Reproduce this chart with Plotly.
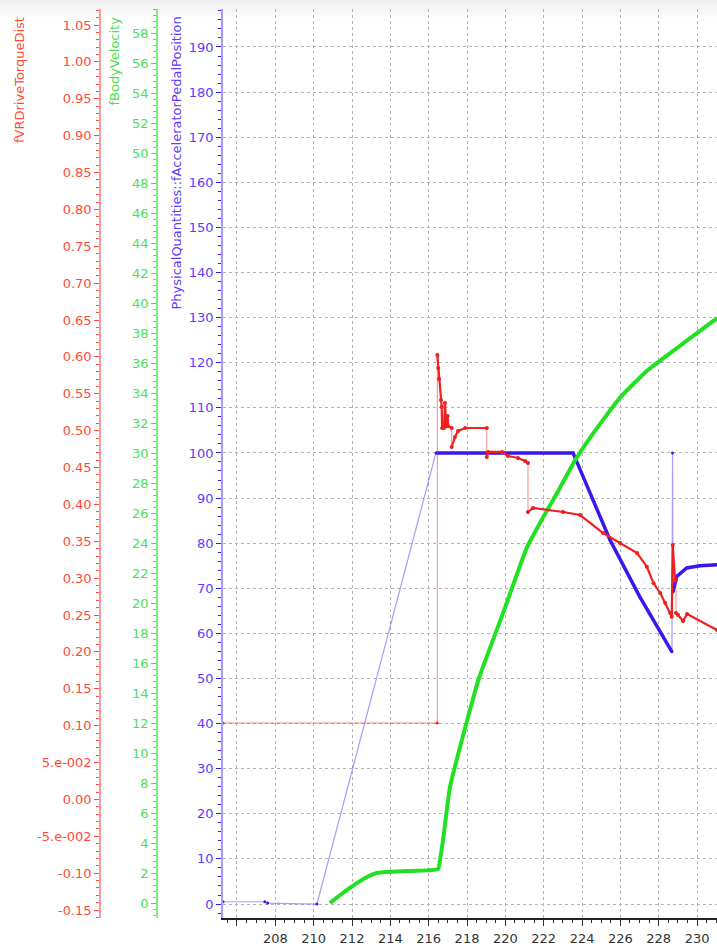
import plotly.graph_objects as go

# ---------------- data ----------------
pedal_t = [205.27, 207.45, 207.60, 210.17, 216.38, 223.53, 225.46, 227.00, 228.69,
           228.72, 228.74, 228.94, 229.46, 230.14, 231.04]
pedal_v = [0.5, 0.5, 0.2, 0.0, 100.0, 100.0, 80.7, 68.2, 55.9,
           100.0, 69.2, 72.6, 74.5, 75.0, 75.2]

torque_t = [205.27, 216.45, 216.45, 216.50, 216.54, 216.64, 216.68, 216.70, 216.80,
            216.85, 216.89, 216.92, 216.99, 217.02, 217.20, 217.20, 217.37, 217.53,
            217.90, 219.03, 219.03, 219.10, 219.83, 220.14, 220.66, 221.03, 221.18,
            221.18, 221.44, 223.01, 223.90, 225.10, 225.98, 226.87, 227.38, 227.73,
            228.08, 228.34, 228.60, 228.68, 228.73, 228.85, 228.90, 228.90, 229.01,
            229.27, 229.48, 231.04]
torque_v = [0.1036, 0.1036, 0.6026, 0.5849, 0.5700, 0.5415, 0.5321, 0.5036, 0.5036,
            0.5375, 0.5185, 0.5060, 0.5199, 0.5060, 0.5036, 0.4778, 0.4914, 0.4995,
            0.5036, 0.5036, 0.4643, 0.4711, 0.4711, 0.4656, 0.4629, 0.4589, 0.4561,
            0.3897, 0.3951, 0.3897, 0.3856, 0.3612, 0.3477, 0.3341, 0.3155, 0.2930,
            0.2799, 0.2663, 0.2527, 0.2477, 0.3449, 0.2975, 0.2975, 0.2527, 0.2500,
            0.2419, 0.2514, 0.2297]

vel_t = [210.85, 211.74, 212.78, 213.30, 213.82, 214.87, 216.49, 216.59, 216.75,
         217.11, 218.59, 219.88, 221.13, 221.96, 222.85, 223.63,
         224.57, 225.98, 227.39, 229.47, 231.04]
vel_v = [0.0, 0.87, 1.73, 2.0, 2.07, 2.13, 2.27, 2.87, 4.2,
         7.73, 14.87, 19.33, 23.73, 25.7, 27.7, 29.5,
         31.3, 33.7, 35.5, 37.5, 39.0]

x_ticks = [206, 208, 210, 212, 214, 216, 218, 220, 222, 224, 226, 228, 230]
x_labels = ["", "208", "210", "212", "214", "216", "218", "220", "222", "224", "226", "228", "230"]
pedal_ticks = list(range(0, 200, 10))
vel_ticks = list(range(0, 60, 2))
torque_ticks = [-0.15, -0.10, -0.05, 0.00, 0.05, 0.10, 0.15, 0.20, 0.25, 0.30, 0.35, 0.40,
                0.45, 0.50, 0.55, 0.60, 0.65, 0.70, 0.75, 0.80, 0.85, 0.90, 0.95, 1.00, 1.05]
torque_labels = ["-0.15", "-0.10", "-5.e-002", "0.00", "5.e-002", "0.10", "0.15", "0.20",
                 "0.25", "0.30", "0.35", "0.40", "0.45", "0.50", "0.55", "0.60", "0.65",
                 "0.70", "0.75", "0.80", "0.85", "0.90", "0.95", "1.00", "1.05"]

# ---------------- styling ----------------
W, H = 717, 949
T_M, B_M = 9, 31
FONT = "DejaVu Sans"
BLUE, BLUE_TXT, BLUE_AX = "#3a16f0", "#5a3cff", "#a59cff"
RED, RED_TXT, RED_AX = "#f02020", "#ff4a3a", "#ff9a9a"
GREEN, GREEN_TXT, GREEN_AX = "#22e022", "#4de04d", "#7df07d"


def thick(xs, ys, ranges):
    ox, oy = [], []
    for a, b in ranges:
        for i in range(a, b + 1):
            if i > a and xs[i] == xs[i - 1]:
                ox.append(None)
                oy.append(None)
            ox.append(xs[i])
            oy.append(ys[i])
        ox.append(None)
        oy.append(None)
    return ox, oy


fig = go.Figure()

# red torque
fig.add_trace(go.Scatter(x=torque_t, y=torque_v, yaxis="y3", mode="lines+markers",
                         line=dict(color="rgba(240,40,40,0.55)", width=1),
                         marker=dict(color=RED, size=3), showlegend=False))
rx, ry = thick(torque_t, torque_v, [(2, len(torque_t) - 1)])
fig.add_trace(go.Scatter(x=rx, y=ry, yaxis="y3", mode="lines+markers",
                         line=dict(color=RED, width=2.2),
                         marker=dict(color=RED, size=4), showlegend=False))

# blue pedal
fig.add_trace(go.Scatter(x=pedal_t, y=pedal_v, yaxis="y", mode="lines+markers",
                         line=dict(color="rgba(110,90,255,0.6)", width=1.2),
                         marker=dict(color=BLUE, size=3), showlegend=False))
bx, by = thick(pedal_t, pedal_v, [(4, 8), (10, len(pedal_t) - 1)])
fig.add_trace(go.Scatter(x=bx, y=by, yaxis="y", mode="lines",
                         line=dict(color=BLUE, width=3.5), showlegend=False))

# green velocity
fig.add_trace(go.Scatter(x=vel_t, y=vel_v, yaxis="y2", mode="lines",
                         line=dict(color=GREEN, width=4, shape="spline", smoothing=0.4),
                         showlegend=False))

x0 = 223 / W

fig.update_layout(
    width=W, height=H,
    margin=dict(l=0, r=0, t=T_M, b=B_M),
    paper_bgcolor="white", plot_bgcolor="white",
    font=dict(family=FONT, size=13),
    xaxis=dict(domain=[x0, 1], range=[205.27, 231.04],
               tickmode="array", tickvals=x_ticks, ticktext=x_labels,
               ticks="outside", ticklen=6, tickcolor="#333333",
               tickfont=dict(color="#333333", size=13),
               ticklabelstandoff=2,
               showline=True, linecolor="#222222", linewidth=1.5,
               showgrid=True, gridcolor="#b4b4b4", griddash="dot", gridwidth=1,
               zeroline=False,
               minor=dict(dtick=0.5, tick0=206, ticks="outside", ticklen=3,
                          tickcolor="#333333", showgrid=False)),
    yaxis=dict(range=[-3.10, 198.42], anchor="x", side="left",
               tickmode="array", tickvals=pedal_ticks,
               ticks="outside", ticklen=5, tickcolor=BLUE,
               tickfont=dict(color=BLUE_TXT, size=13),
               showline=True, linecolor=BLUE_AX, linewidth=1.5,
               showgrid=True, gridcolor="#b4b4b4", griddash="dot", gridwidth=1,
               zeroline=False,
               minor=dict(dtick=2, tick0=0, ticks="outside", ticklen=3,
                          tickcolor=BLUE, showgrid=False)),
    yaxis2=dict(range=[-1.0, 59.62], overlaying="y", anchor="free",
                position=157 / W, side="left",
                tickmode="array", tickvals=vel_ticks,
                ticks="outside", ticklen=5, tickcolor=GREEN_TXT,
                tickfont=dict(color=GREEN_TXT, size=13),
                showline=True, linecolor=GREEN_AX, linewidth=1.5,
                showgrid=False, zeroline=False,
                minor=dict(dtick=0.4, tick0=0, ticks="outside", ticklen=3,
                           tickcolor=GREEN_TXT, showgrid=False)),
    yaxis3=dict(range=[-0.1608, 1.0717], overlaying="y", anchor="free",
                position=100 / W, side="left",
                tickmode="array", tickvals=torque_ticks, ticktext=torque_labels,
                ticks="outside", ticklen=5, tickcolor=RED_TXT,
                tickfont=dict(color=RED_TXT, size=13),
                showline=True, linecolor=RED_AX, linewidth=1.5,
                showgrid=False, zeroline=False,
                minor=dict(dtick=0.01, tick0=0, ticks="outside", ticklen=3,
                           tickcolor=RED_TXT, showgrid=False)),
)

top_y = 1 - (15 - T_M) / (H - T_M - B_M)
for txt, xp, col in [("fVRDriveTorqueDist", 20, RED_TXT),
                     ("fBodyVelocity", 114, GREEN_TXT),
                     ("PhysicalQuantities::fAcceleratorPedalPosition", 176, BLUE_TXT)]:
    fig.add_annotation(text=txt, xref="paper", yref="paper", x=xp / W, y=top_y,
                       xanchor="center", yanchor="top", textangle=-90,
                       showarrow=False, font=dict(family=FONT, size=13, color=col))

# top grey shading band
ph = H - T_M - B_M
for i in range(9):
    y_top = 1 + T_M / ph - i * 2 / ph
    y_bot = y_top - 2 / ph
    alpha = 0.16 * (1 - i / 9)
    fig.add_shape(type="rect", xref="paper", yref="paper", x0=-0.01, x1=1.01,
                  y0=y_bot, y1=y_top, line=dict(width=0),
                  fillcolor=f"rgba(150,150,150,{alpha:.3f})", layer="above")

fig.write_html("out.html", config={"displayModeBar": False},
               post_script="document.body.style.margin='0';document.body.style.overflow='hidden';")
